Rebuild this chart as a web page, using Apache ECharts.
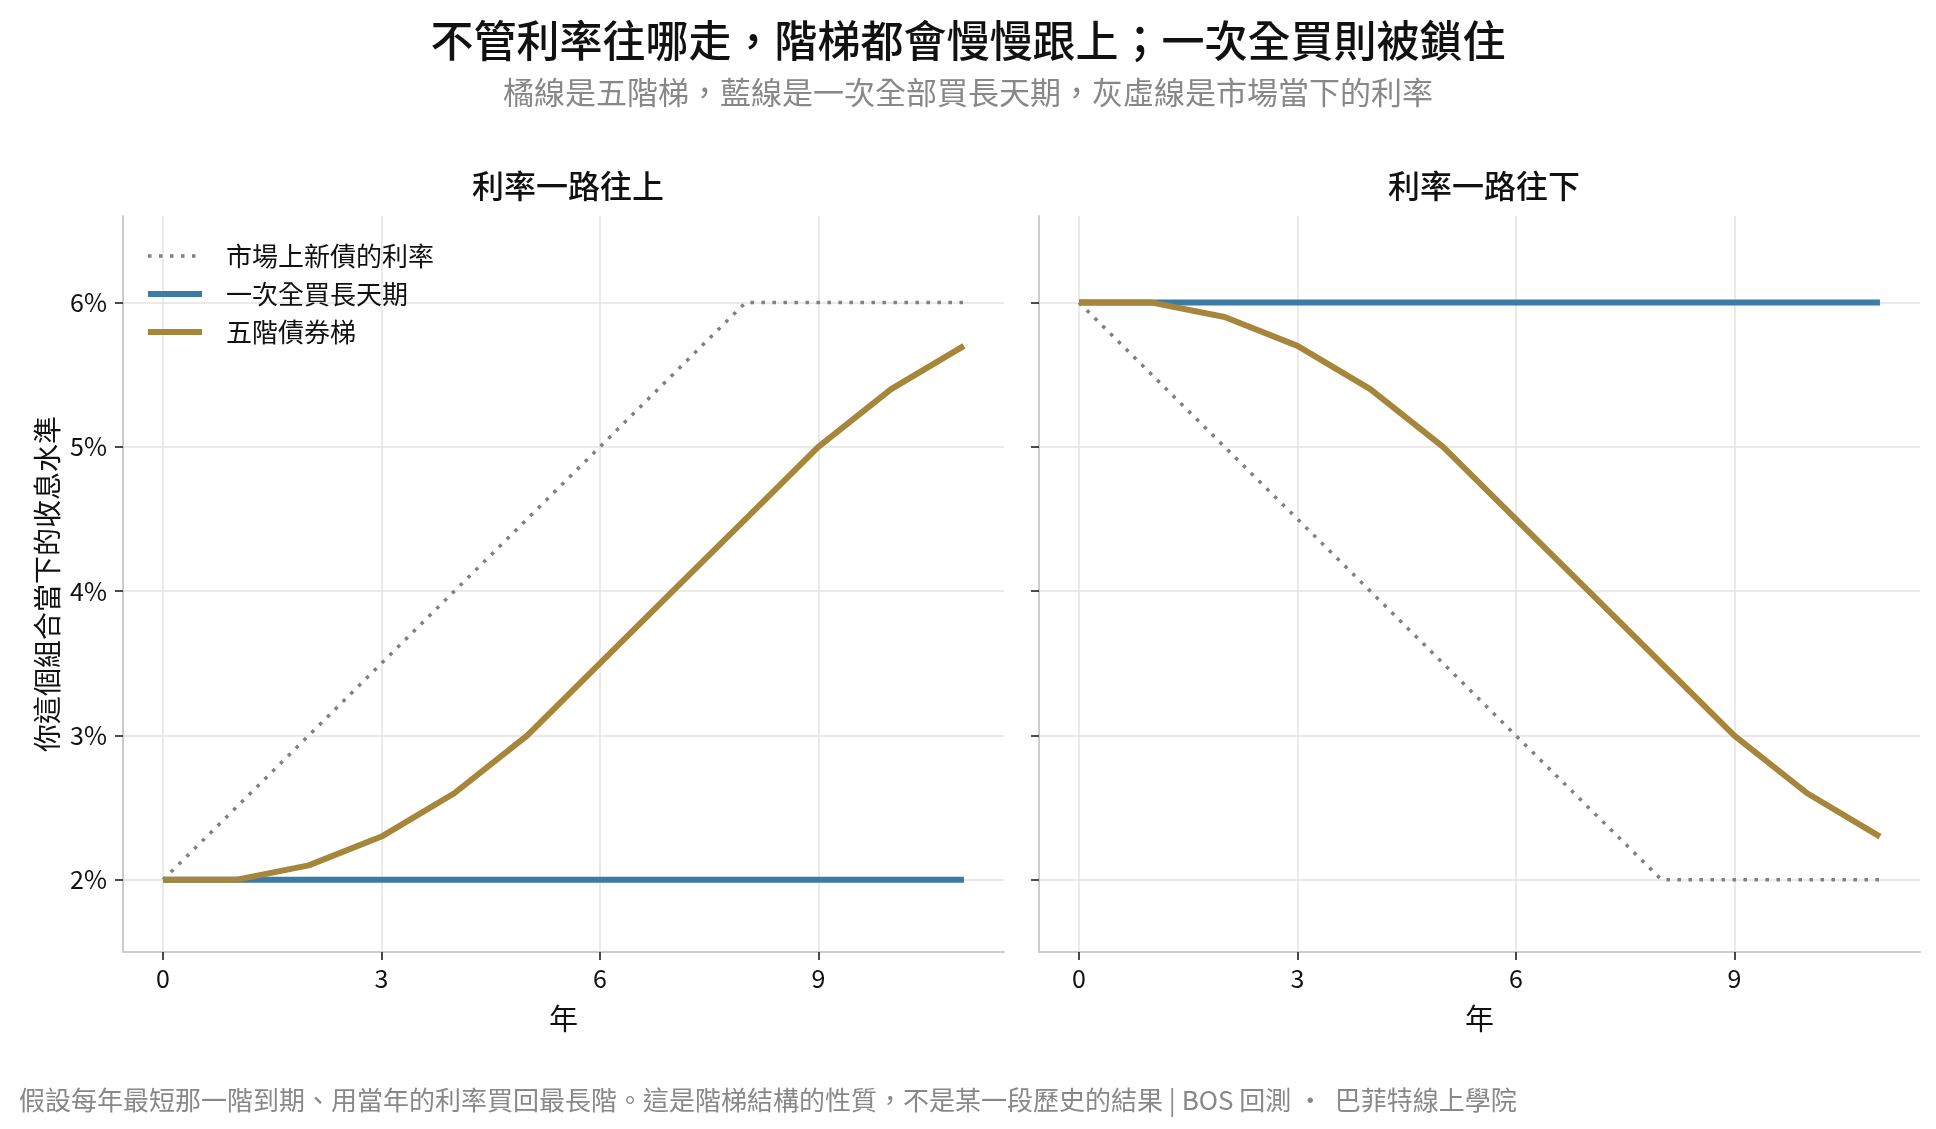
<!DOCTYPE html>
<html>
<head>
<meta charset="utf-8">
<script src="https://cdn.jsdelivr.net/npm/echarts@6/dist/echarts.min.js"></script>
<style>
  html, body { margin: 0; padding: 0; background: #fff; }
  #chart { width: 1936px; height: 1129px; }
</style>
</head>
<body>
<div id="chart"></div>
<script>
// 資料
var years = [0, 1, 2, 3, 4, 5, 6, 7, 8, 9, 10, 11];
var upMarket = [2, 2.5, 3, 3.5, 4, 4.5, 5, 5.5, 6, 6, 6, 6];
var upLong = [2, 2, 2, 2, 2, 2, 2, 2, 2, 2, 2, 2];
var upLadder = [2, 2, 2.1, 2.3, 2.6, 3.0, 3.5, 4.0, 4.5, 5.0, 5.4, 5.7];
var downMarket = [6, 5.5, 5, 4.5, 4, 3.5, 3, 2.5, 2, 2, 2, 2];
var downLong = [6, 6, 6, 6, 6, 6, 6, 6, 6, 6, 6, 6];
var downLadder = [6, 6, 5.9, 5.7, 5.4, 5.0, 4.5, 4.0, 3.5, 3.0, 2.6, 2.3];
var xTicks = [0, 3, 6, 9];
var yTicks = [2, 3, 4, 5, 6];
var seriesNames = ['市場上新債的利率', '一次全買長天期', '五階債券梯'];
var panelTitles = ['利率一路往上', '利率一路往下'];

var FONT = '"Noto Sans CJK TC", "Noto Sans", sans-serif';
var C_MARKET = '#808080', C_LONG = '#3d7ba7', C_LADDER = '#a6863a';
var DOTS = [3.5, 7.5];

function pairs(ys) {
    return years.map(function (x, i) { return [x, ys[i]]; });
}

function xAxisFor(idx) {
    return {
        type: 'value',
        gridIndex: idx,
        min: -0.55,
        max: 11.55,
        name: '年',
        nameLocation: 'middle',
        nameGap: 52,
        nameTextStyle: { fontSize: 29, color: '#111', fontFamily: FONT },
        axisLine: { onZero: false, lineStyle: { color: '#cccccc', width: 2 } },
        axisTick: { show: true, length: 8, customValues: xTicks, lineStyle: { color: '#111', width: 1.5 } },
        axisLabel: { customValues: xTicks, fontSize: 25, color: '#111', fontFamily: FONT, margin: 14 },
        splitLine: { show: true, lineStyle: { color: '#e3e3e3', width: 1.5 } }
    };
}

function yAxisFor(idx, showLabels) {
    var ax = {
        type: 'value',
        gridIndex: idx,
        min: 1.5,
        max: 6.6,
        axisLine: { show: true, onZero: false, lineStyle: { color: '#cccccc', width: 2 } },
        axisTick: { show: true, length: 8, customValues: yTicks, lineStyle: { color: '#111', width: 1.5 } },
        axisLabel: {
            show: showLabels,
            customValues: yTicks,
            fontSize: 25, color: '#111', fontFamily: FONT, margin: 16,
            formatter: function (v) { return v + '%'; }
        },
        splitLine: { show: true, lineStyle: { color: '#e3e3e3', width: 1.5 } }
    };
    if (showLabels) {
        ax.name = '你這個組合當下的收息水準';
        ax.nameLocation = 'middle';
        ax.nameGap = 62;
        ax.nameTextStyle = { fontSize: 28, color: '#111', fontFamily: FONT };
    }
    return ax;
}

function panelSeries(idx, market, longRate, ladder) {
    return [
        {
            name: seriesNames[0], type: 'line', xAxisIndex: idx, yAxisIndex: idx,
            data: pairs(market), showSymbol: false, symbol: 'none',
            lineStyle: { color: C_MARKET, width: 3.5, type: DOTS, cap: 'butt' },
            itemStyle: { color: C_MARKET }
        },
        {
            name: seriesNames[1], type: 'line', xAxisIndex: idx, yAxisIndex: idx,
            data: pairs(longRate), showSymbol: false, symbol: 'none',
            lineStyle: { color: C_LONG, width: 6 },
            itemStyle: { color: C_LONG }
        },
        {
            name: seriesNames[2], type: 'line', xAxisIndex: idx, yAxisIndex: idx,
            data: pairs(ladder), showSymbol: false, symbol: 'none',
            lineStyle: { color: C_LADDER, width: 6 },
            itemStyle: { color: C_LADDER }
        }
    ];
}

var myChart = echarts.init(document.getElementById('chart'), null, { renderer: 'canvas' });
var option = {
    backgroundColor: '#ffffff',
    animation: false,
    title: [
        {
            text: '不管利率往哪走，階梯都會慢慢跟上；一次全買則被鎖住',
            left: 'center', top: 14,
            textStyle: { fontSize: 43, fontWeight: 500, color: '#111', fontFamily: FONT }
        },
        {
            text: '橘線是五階梯，藍線是一次全部買長天期，灰虛線是市場當下的利率',
            left: 'center', top: 72,
            textStyle: { fontSize: 31, fontWeight: 'normal', color: '#888', fontFamily: FONT }
        },
        {
            text: panelTitles[0], left: 563, top: 165, textAlign: 'center',
            textStyle: { fontSize: 32, fontWeight: 500, color: '#111', fontFamily: FONT }
        },
        {
            text: panelTitles[1], left: 1479, top: 165, textAlign: 'center',
            textStyle: { fontSize: 32, fontWeight: 500, color: '#111', fontFamily: FONT }
        },
        {
            text: '假設每年最短那一階到期、用當年的利率買回最長階。這是階梯結構的性質，不是某一段歷史的結果 | BOS 回測 ·  巴菲特線上學院',
            left: 14, top: 1082,
            textStyle: { fontSize: 26, fontWeight: 'normal', color: '#888', fontFamily: FONT }
        }
    ],
    legend: {
        data: [
            { name: seriesNames[0], lineStyle: { color: C_MARKET, width: 3.5, type: DOTS, cap: 'butt' } },
            { name: seriesNames[1], lineStyle: { color: C_LONG, width: 6 } },
            { name: seriesNames[2], lineStyle: { color: C_LADDER, width: 6 } }
        ],
        orient: 'vertical',
        left: 140, top: 238,
        itemWidth: 54, itemHeight: 14, itemGap: 12,
        itemStyle: { opacity: 0 },
        textStyle: { fontSize: 26, color: '#111', fontFamily: FONT, padding: [0, 0, 0, 19] }
    },
    grid: [
        { left: 123, right: 932, top: 216, bottom: 177 },
        { left: 1039, right: 16, top: 216, bottom: 177 }
    ],
    xAxis: [xAxisFor(0), xAxisFor(1)],
    yAxis: [yAxisFor(0, true), yAxisFor(1, false)],
    series: panelSeries(0, upMarket, upLong, upLadder)
        .concat(panelSeries(1, downMarket, downLong, downLadder))
};
myChart.setOption(option);
</script>
</body>
</html>
